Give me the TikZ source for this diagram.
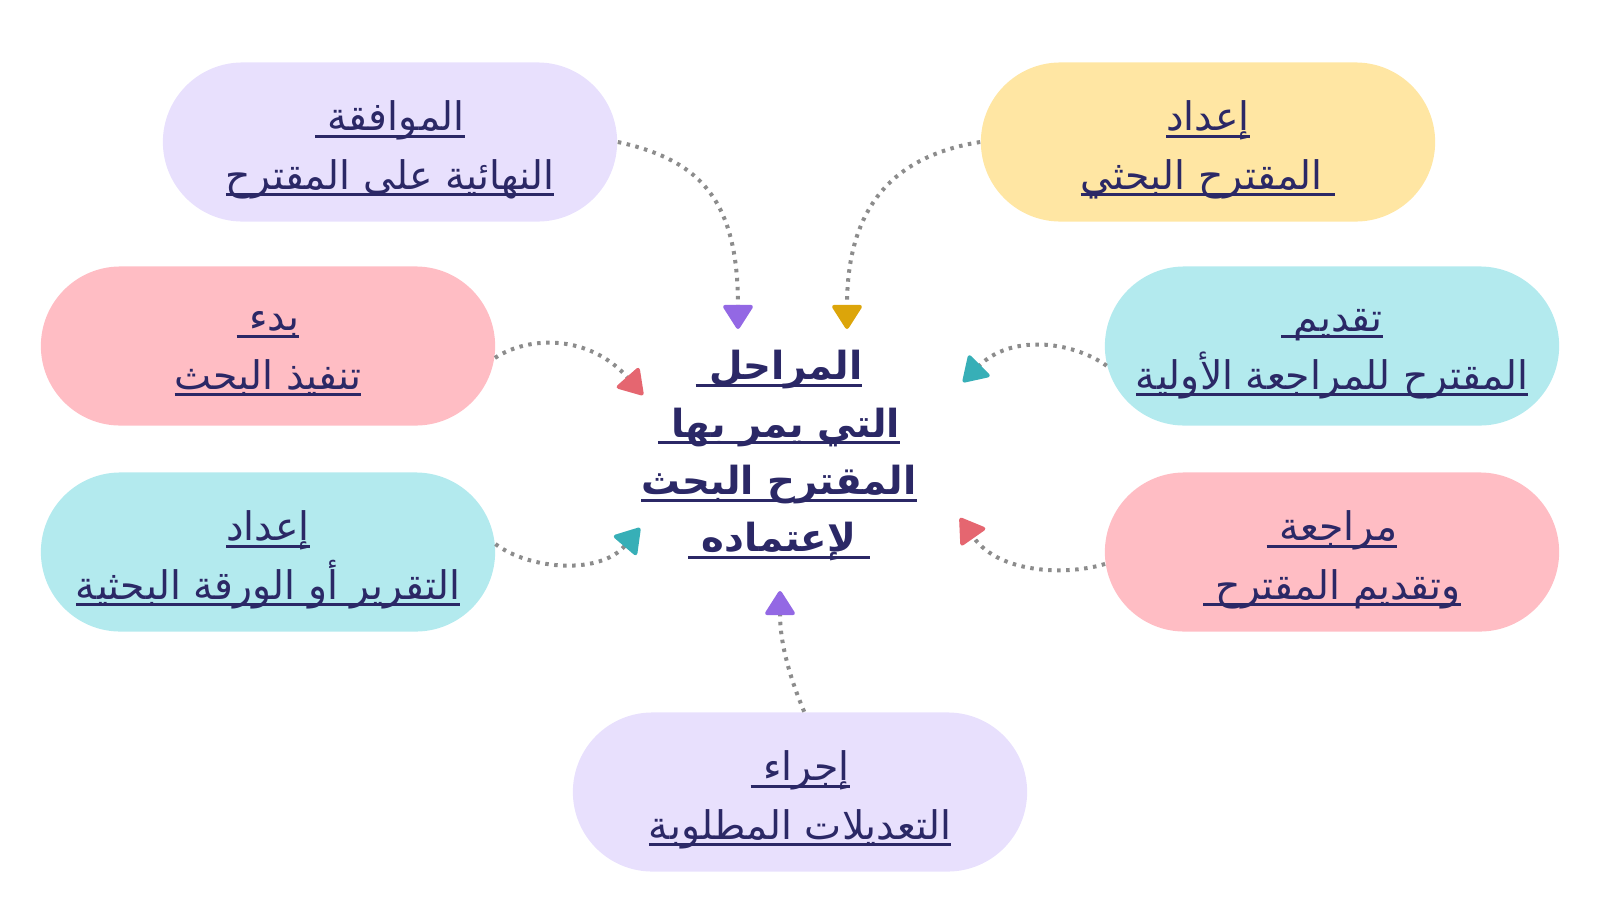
\documentclass[tikz,border=0pt]{standalone}
\usepackage{fontspec}
\usetikzlibrary{arrows.meta,shapes.misc}
\TeXXeTstate=1
\newfontfamily\arabicfont[Script=Arabic]{DejaVu Sans}
\definecolor{navy}{HTML}{2B2866}
\definecolor{pillpurple}{HTML}{E8E0FD}
\definecolor{pillyellow}{HTML}{FFE6A3}
\definecolor{pillpink}{HTML}{FFBDC4}
\definecolor{pillcyan}{HTML}{B3EAEE}
\definecolor{tippurple}{HTML}{9368E4}
\definecolor{tipyellow}{HTML}{DCA50A}
\definecolor{tippink}{HTML}{E56670}
\definecolor{tipcyan}{HTML}{37AFB7}
\definecolor{dotgray}{HTML}{8C8C8C}
\newcommand\ulr[1]{\leavevmode\setbox0=\hbox{\beginR #1\endR}\rlap{\rule[-2.0pt]{\wd0}{0.9pt}}\box0}
\tikzset{
  pill/.style={rounded rectangle, minimum width=4.54cm, minimum height=1.59cm, inner sep=0pt},
  pilltext/.style={text=navy, align=center, inner sep=0pt,
    font=\arabicfont\fontsize{11.2}{16.6}\selectfont},
  centertext/.style={text=navy, align=center, inner sep=0pt,
    font=\arabicfont\bfseries\fontsize{11}{16.3}\selectfont},
  link/.style={draw=dotgray, line width=0.04cm, dash pattern=on 0.035cm off 0.055cm},
  tipc/.style={-{Triangle[length=0.26cm, width=0.32cm, round, color=#1]}}
}
\begin{document}
\begin{tikzpicture}[x=0.01cm, y=-0.01cm]
\useasboundingbox (0,0) rectangle (1600,900);
\node[pill, fill=pillpurple] (tl) at (390,142) {};
\node[pill, fill=pillyellow] (tr) at (1208,142) {};
\node[pill, fill=pillpink] (ml) at (268,346) {};
\node[pill, fill=pillcyan] (mr) at (1332,346) {};
\node[pill, fill=pillcyan] (ll) at (268,552) {};
\node[pill, fill=pillpink] (lr) at (1332,552) {};
\node[pill, fill=pillpurple] (bt) at (800,792) {};
\node[pilltext] (tlt) at ([yshift=-0.08cm]tl.center) {\ulr{الموافقة\ }\\\ulr{النهائية على المقترح}};
\node[pilltext] (trt) at ([yshift=-0.08cm]tr.center) {\ulr{إعداد}\\\ulr{\ المقترح البحثي}};
\node[pilltext] (mlt) at ([yshift=-0.08cm]ml.center) {\ulr{بدء\ }\\\ulr{تنفيذ البحث}};
\node[pilltext] (mrt) at ([yshift=-0.08cm]mr.center) {\ulr{تقديم\ }\\\ulr{المقترح للمراجعة الأولية}};
\node[pilltext] (llt) at ([yshift=-0.08cm]ll.center) {\ulr{إعداد}\\\ulr{التقرير أو الورقة البحثية}};
\node[pilltext] (lrt) at ([yshift=-0.08cm]lr.center) {\ulr{مراجعة\ }\\\ulr{وتقديم المقترح\ }};
\node[pilltext] (btt) at ([yshift=-0.08cm]bt.center) {\ulr{إجراء\ }\\\ulr{التعديلات المطلوبة}};
\node[centertext] (ct) at (779,456) {\ulr{المراحل\ }\\\ulr{التي يمر بها\ }\\\ulr{المقترح البحث}\\\ulr{\ لإعتماده\ }};
\coordinate (a1) at (738,329);
\coordinate (a2) at (847,329);
\coordinate (a3) at (643,395);
\coordinate (a4) at (963,382);
\coordinate (a5) at (640,528);
\coordinate (a6) at (960,518);
\coordinate (a7) at (780,591);
\draw[link, tipc=tippurple] (tl.east) .. controls (700,160) and (738,200) .. (a1);
\draw[link, tipc=tipyellow] (tr.west) .. controls (900,155) and (847,200) .. (a2);
\draw[link, tipc=tippink] (ml.-3) .. controls (530,335) and (590,335) .. (a3);
\draw[link, tipc=tipcyan] (mr.185) .. controls (1070,340) and (1010,335) .. (a4);
\draw[link, tipc=tipcyan] (ll.2) .. controls (530,570) and (600,575) .. (a5);
\draw[link, tipc=tippink] (lr.183) .. controls (1070,575) and (1000,575) .. (a6);
\draw[link, tipc=tippurple] (bt.87) .. controls (795,690) and (780,650) .. (a7);
\end{tikzpicture}
\end{document}
